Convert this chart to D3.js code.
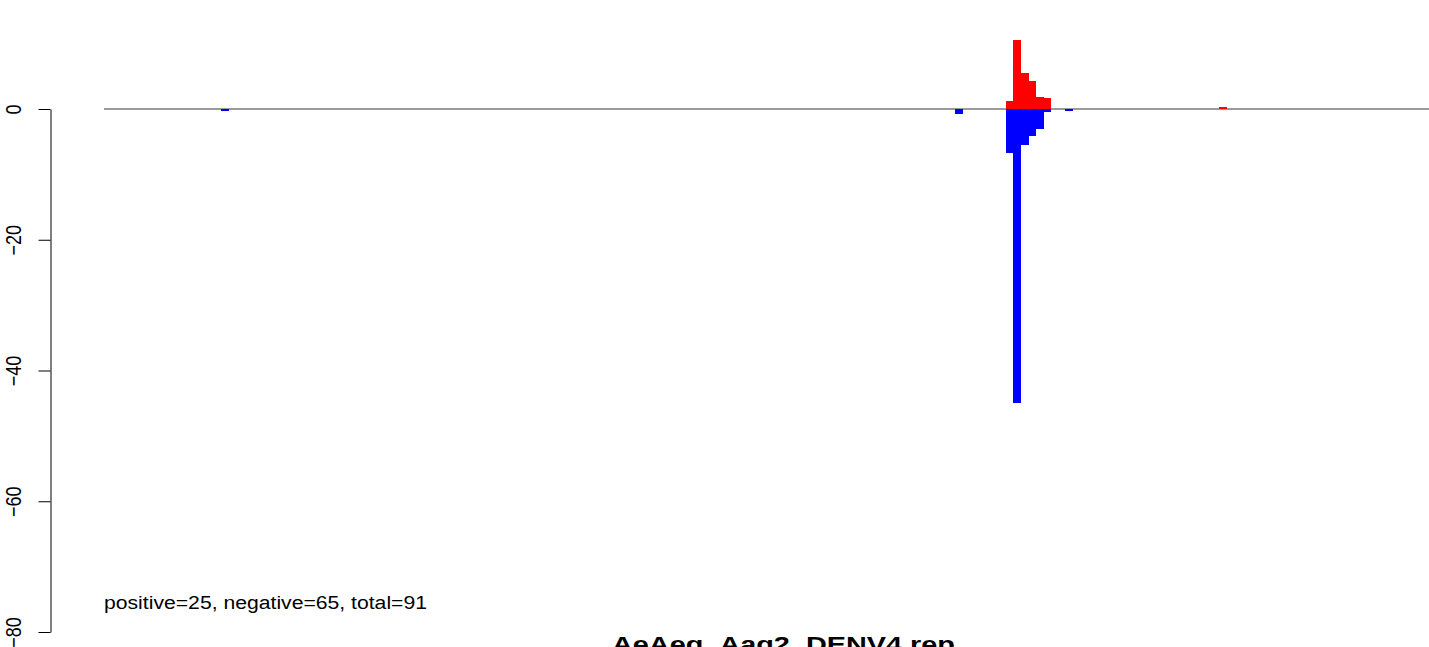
<!DOCTYPE html>
<html>
<head>
<meta charset="utf-8">
<script src="https://cdn.jsdelivr.net/npm/d3@7"></script>
<style>
  html, body { margin: 0; padding: 0; background: #fff; }
  svg { display: block; font-family: "Liberation Sans", Arial, sans-serif; }
</style>
</head>
<body>
<svg id="chart" width="1429" height="647"></svg>
<script>
// ---- data (genome position in nt, value) ----
const genomeLength = 10650;
const binWidth = 58.5;
const posStarts = [7079, 7137, 7195, 7254, 7313, 7372, 8751];
const posValues = [1.25, 10.55, 5.55, 4.3, 1.86, 1.73, 0.25];
const negStarts = [918, 6679, 7079, 7137, 7195, 7254, 7313, 7372, 7542];
const negValues = [0.25, 0.75, 6.7, 44.9, 5.45, 4.1, 3.05, 0.4, 0.25];
const yTicks = [0, -20, -40, -60, -80];
const summaryText = "positive=25, negative=65, total=91";
const titleText = "AeAeg_Aag2_DENV4 rep";

const svg = d3.select("#chart");
const x = d3.scaleLinear().domain([0, genomeLength]).range([104, 1461]);
const y = d3.scaleLinear().domain([-80, 0]).range([632, 109]);

// baseline
svg.append("line")
  .attr("x1", x(0)).attr("x2", x(genomeLength))
  .attr("y1", y(0)).attr("y2", y(0))
  .attr("stroke", "#7a7a7a").attr("stroke-width", 1.4);

// positive bars (red)
svg.append("g").attr("shape-rendering", "crispEdges").selectAll("rect")
  .data(posStarts.map((s, i) => ({ s, v: posValues[i] })))
  .join("rect")
  .attr("x", d => x(d.s))
  .attr("width", d => x(d.s + binWidth) - x(d.s) + 0.3)
  .attr("y", d => y(d.v))
  .attr("height", d => y(0) - y(d.v))
  .attr("fill", "#ff0000");

// negative bars (blue)
svg.append("g").attr("shape-rendering", "crispEdges").selectAll("rect")
  .data(negStarts.map((s, i) => ({ s, v: negValues[i] })))
  .join("rect")
  .attr("x", d => x(d.s))
  .attr("width", d => x(d.s + binWidth) - x(d.s) + 0.3)
  .attr("y", y(0))
  .attr("height", d => y(-d.v) - y(0))
  .attr("fill", "#0000ff");

// y axis
const axisG = svg.append("g")
  .attr("transform", "translate(50.5,0)")
  .call(d3.axisLeft(y).tickValues(yTicks).tickSize(12).tickSizeOuter(0));
axisG.select(".domain").attr("stroke", "#000");
axisG.selectAll(".tick line").attr("stroke", "#000");
axisG.selectAll(".tick text")
  .attr("x", null).attr("dy", null)
  .attr("text-anchor", "middle")
  .attr("fill", "#000")
  .style("font-size", "18px")
  .style("font-family", "'Liberation Sans', Arial, sans-serif")
  .attr("transform", "translate(-30,0) scale(1.2,1) rotate(-90)");

// summary text
svg.append("text")
  .attr("x", 104).attr("y", 609)
  .attr("textLength", 323).attr("lengthAdjust", "spacingAndGlyphs")
  .style("font-size", "18px")
  .attr("fill", "#000")
  .text(summaryText);

// title
svg.append("text")
  .attr("x", 783.5).attr("y", 652)
  .attr("text-anchor", "middle")
  .attr("textLength", 343).attr("lengthAdjust", "spacingAndGlyphs")
  .style("font-size", "22px").style("font-weight", "bold")
  .attr("fill", "#000")
  .text(titleText);
</script>
</body>
</html>
